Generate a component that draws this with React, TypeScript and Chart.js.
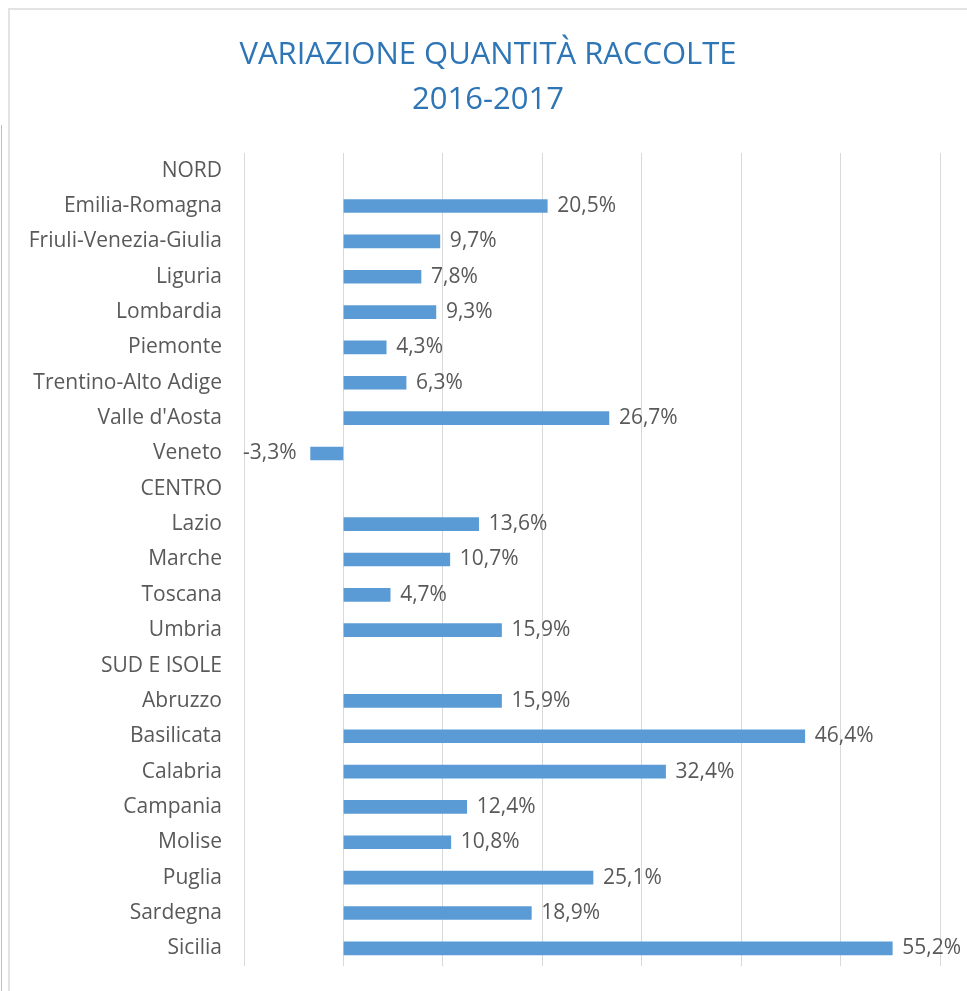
import React, { useEffect, useRef } from "react";
import { Chart, registerables } from "chart.js";

Chart.register(...registerables);

const TITLE_LINES = ["VARIAZIONE QUANTITÀ RACCOLTE", "2016-2017"];

const CATEGORIES = [
  "NORD",
  "Emilia-Romagna",
  "Friuli-Venezia-Giulia",
  "Liguria",
  "Lombardia",
  "Piemonte",
  "Trentino-Alto Adige",
  "Valle d'Aosta",
  "Veneto",
  "CENTRO",
  "Lazio",
  "Marche",
  "Toscana",
  "Umbria",
  "SUD E ISOLE",
  "Abruzzo",
  "Basilicata",
  "Calabria",
  "Campania",
  "Molise",
  "Puglia",
  "Sardegna",
  "Sicilia",
];

const VARIAZIONE: (number | null)[] = [
  null, 20.5, 9.7, 7.8, 9.3, 4.3, 6.3, 26.7, -3.3,
  null, 13.6, 10.7, 4.7, 15.9,
  null, 15.9, 46.4, 32.4, 12.4, 10.8, 25.1, 18.9, 55.2,
];

const X_MIN = -10;
const X_MAX = 60;
const X_STEP = 10;

const LABEL_COLOR = "#595959";
const BAR_COLOR = "#5B9BD5";
const GRID_COLOR = "#D9D9D9";
const TITLE_COLOR = "#2E75B6";
const FONT = "'Open Sans', sans-serif";

const fmt = (v: number) => v.toFixed(1).replace(".", ",") + "%";

const titlePlugin = {
  id: "customTitle",
  afterDraw(chart: any) {
    const ctx = chart.ctx;
    ctx.save();
    ctx.font = `31px ${FONT}`;
    ctx.fillStyle = TITLE_COLOR;
    ctx.textAlign = "center";
    ctx.textBaseline = "middle";
    ctx.fillText(TITLE_LINES[0], 488, 55);
    ctx.fillText(TITLE_LINES[1], 488, 100);
    ctx.restore();
  },
};

const valueLabels = {
  id: "valueLabels",
  afterDatasetsDraw(chart: any) {
    const ctx = chart.ctx;
    const meta = chart.getDatasetMeta(0);
    const data = chart.data.datasets[0].data as (number | null)[];
    ctx.save();
    ctx.font = `21px ${FONT}`;
    ctx.fillStyle = LABEL_COLOR;
    ctx.textBaseline = "middle";
    meta.data.forEach((el: any, i: number) => {
      const v = data[i];
      if (v === null || v === undefined) return;
      if (v >= 0) {
        ctx.textAlign = "left";
        ctx.fillText(fmt(v), el.x + 10, el.y);
      } else {
        ctx.textAlign = "right";
        ctx.fillText(fmt(v), el.x - 14, el.y);
      }
    });
    ctx.restore();
  },
};

export default function App() {
  const ref = useRef<HTMLCanvasElement | null>(null);

  useEffect(() => {
    if (!ref.current) return;
    const chart = new Chart(ref.current, {
      type: "bar",
      data: {
        labels: CATEGORIES,
        datasets: [
          {
            data: VARIAZIONE as any,
            backgroundColor: BAR_COLOR,
            borderWidth: 0,
            barThickness: 13,
          },
        ],
      },
      options: {
        indexAxis: "y",
        animation: false,
        responsive: false,
        layout: { padding: { left: 0, right: 27, top: 153, bottom: 25 } },
        plugins: {
          legend: { display: false },
          tooltip: { enabled: false },
          title: { display: false },
        },
        scales: {
          x: {
            min: X_MIN,
            max: X_MAX,
            ticks: { display: false, stepSize: X_STEP },
            grid: { color: GRID_COLOR, lineWidth: 1, drawTicks: false },
            border: { display: false },
            afterFit(scale: any) {
              scale.height = 0;
              scale.paddingLeft = 0;
              scale.paddingRight = 0;
            },
          },
          y: {
            ticks: {
              autoSkip: false,
              color: LABEL_COLOR,
              font: { family: FONT, size: 21 },
              padding: 22,
            },
            grid: { display: false, drawTicks: false },
            border: { display: false },
            afterFit(scale: any) {
              scale.width = 244;
              scale.paddingTop = 0;
              scale.paddingBottom = 0;
            },
          },
        },
      },
      plugins: [valueLabels, titlePlugin],
    });
    return () => chart.destroy();
  }, []);

  return (
    <div style={{ position: "absolute", left: 0, top: 0, width: 967, height: 991, background: "#fff", overflow: "hidden" }}>
      <div style={{ position: "absolute", left: 1, top: 125, width: 1, height: 866, background: "#BFBFBF" }} />
      <div style={{ position: "absolute", left: 8, top: 8, width: 970, height: 1000, border: "2px solid #E3E3E3", boxSizing: "border-box" }} />
      <canvas ref={ref} width={967} height={991} style={{ position: "absolute", left: 0, top: 0 }} />
    </div>
  );
}
